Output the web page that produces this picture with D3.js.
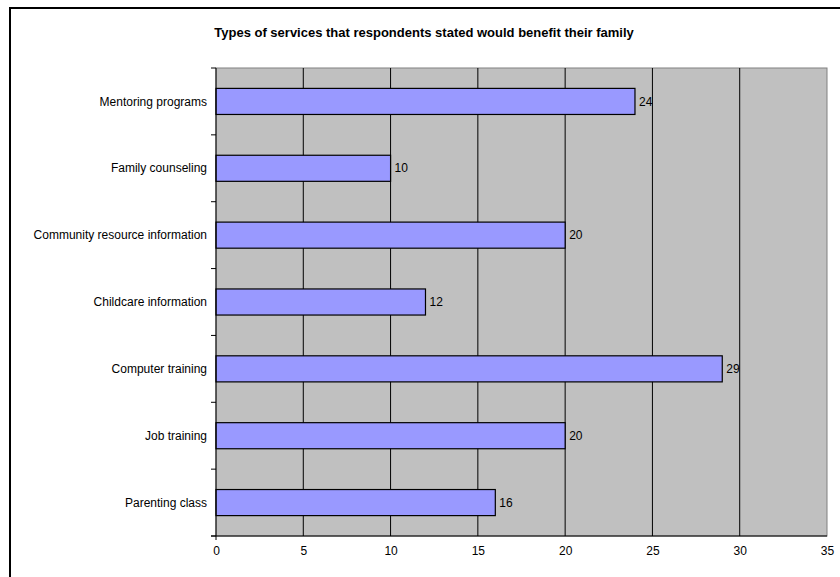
<!DOCTYPE html>
<html>
<head>
<meta charset="utf-8">
<script src="https://cdn.jsdelivr.net/npm/d3@7/dist/d3.min.js"></script>
<style>
  html, body { margin: 0; padding: 0; background: #fff; }
  svg { display: block; }
</style>
</head>
<body>
<svg id="chart" width="840" height="577"></svg>
<script>
// Survey responses: services that would benefit the family
const categories = [
  "Mentoring programs",
  "Family counseling",
  "Community resource information",
  "Childcare information",
  "Computer training",
  "Job training",
  "Parenting class"
];
const counts = [24, 10, 20, 12, 29, 20, 16];
const xTicks = [0, 5, 10, 15, 20, 25, 30, 35];
const title = "Types of services that respondents stated would benefit their family";

const svg = d3.select("#chart");
const font = "Liberation Sans, Arial, sans-serif";

// outer chart border
svg.append("rect")
  .attr("x", 10).attr("y", 8)
  .attr("width", 840).attr("height", 600)
  .attr("fill", "none").attr("stroke", "#000").attr("stroke-width", 2);

const plot = { left: 216, right: 827, top: 68, bottom: 536 };

const x = d3.scaleLinear().domain([0, 35]).range([plot.left, plot.right]);
const y = d3.scaleBand().domain(categories).range([plot.top, plot.bottom]).paddingInner(0.61).paddingOuter(0.305);
const yBand = d3.scaleBand().domain(categories).range([plot.top, plot.bottom]);

// plot background
svg.append("rect")
  .attr("x", plot.left).attr("y", plot.top)
  .attr("width", plot.right - plot.left).attr("height", plot.bottom - plot.top)
  .attr("fill", "#c0c0c0").attr("stroke", "#808080").attr("stroke-width", 1);

// vertical gridlines
svg.append("g")
  .selectAll("line")
  .data(xTicks.slice(1, -1))
  .join("line")
  .attr("x1", d => x(d)).attr("x2", d => x(d))
  .attr("y1", plot.top).attr("y2", plot.bottom)
  .attr("stroke", "#000").attr("stroke-width", 1);

// bars
svg.append("g")
  .selectAll("rect")
  .data(categories)
  .join("rect")
  .attr("x", x(0))
  .attr("y", d => y(d))
  .attr("width", (d, i) => x(counts[i]) - x(0))
  .attr("height", y.bandwidth())
  .attr("fill", "#9999ff")
  .attr("stroke", "#000").attr("stroke-width", 1.2);

// value labels
svg.append("g")
  .selectAll("text")
  .data(categories)
  .join("text")
  .attr("x", (d, i) => x(counts[i]) + 4)
  .attr("y", d => y(d) + y.bandwidth() / 2)
  .attr("dy", "0.35em")
  .attr("font-family", font).attr("font-size", 12)
  .attr("fill", "#000")
  .text((d, i) => counts[i]);

// y axis
const yAxis = svg.append("g")
  .attr("transform", `translate(${plot.left},0)`);
yAxis.append("line")
  .attr("x1", 0).attr("x2", 0)
  .attr("y1", plot.top).attr("y2", plot.bottom + 4)
  .attr("stroke", "#000");
// tick marks on band boundaries
const boundaries = categories.map(c => yBand(c)).concat([plot.bottom]);
yAxis.selectAll("line.tick")
  .data(boundaries)
  .join("line")
  .attr("class", "tick")
  .attr("x1", -5).attr("x2", 0)
  .attr("y1", d => d).attr("y2", d => d)
  .attr("stroke", "#000");
yAxis.selectAll("text")
  .data(categories)
  .join("text")
  .attr("x", -9)
  .attr("y", d => yBand(d) + yBand.bandwidth() / 2)
  .attr("dy", "0.35em")
  .attr("text-anchor", "end")
  .attr("font-family", font).attr("font-size", 12)
  .attr("fill", "#000")
  .text(d => d);

// x axis
const xAxis = svg.append("g")
  .attr("transform", `translate(0,${plot.bottom})`)
  .call(d3.axisBottom(x).tickValues(xTicks).tickSize(0).tickPadding(10));
xAxis.select(".domain").attr("stroke", "#000").attr("d", `M${plot.left - 5},0H${plot.right}`);
xAxis.selectAll("text").attr("font-family", font).attr("font-size", 12).attr("fill", "#000");

// title
svg.append("text")
  .attr("x", 424).attr("y", 37)
  .attr("text-anchor", "middle")
  .attr("font-family", font).attr("font-size", 13).attr("font-weight", "bold")
  .attr("fill", "#000")
  .text(title);
</script>
</body>
</html>
